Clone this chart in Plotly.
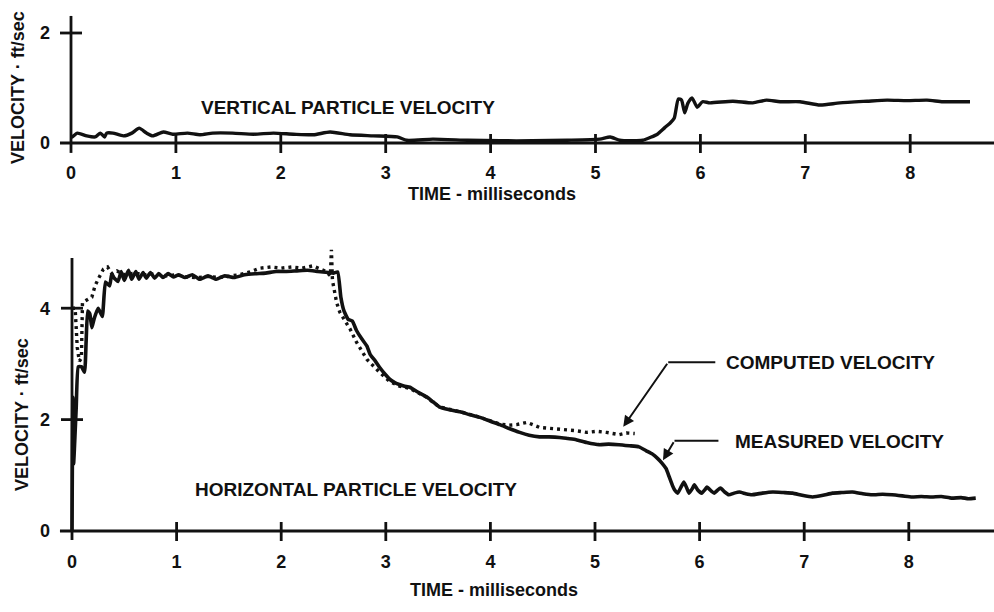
import plotly.graph_objects as go

# ---- Vertical particle velocity (ft/sec) vs time (ms) ----
vert_t = [0.00, 0.01, 0.06, 0.15, 0.23, 0.28, 0.32, 0.34, 0.40, 0.50, 0.58, 0.65,
          0.72, 0.78, 0.88, 0.97, 1.11, 1.23, 1.35, 1.54, 1.74, 1.93, 2.12, 2.31,
          2.47, 2.66, 2.88, 3.11, 3.20, 3.45, 3.78, 4.09, 4.40, 4.73, 5.04, 5.14,
          5.23, 5.36, 5.45, 5.52, 5.59, 5.66, 5.71, 5.75, 5.79, 5.82, 5.85, 5.88,
          5.92, 5.97, 6.02, 6.09, 6.31, 6.50, 6.63, 6.76, 6.95, 7.14, 7.33, 7.59,
          7.78, 7.97, 8.16, 8.31, 8.47, 8.57]
vert_v = [0.12, 0.11, 0.18, 0.13, 0.11, 0.18, 0.11, 0.18, 0.18, 0.13, 0.18, 0.27,
          0.18, 0.13, 0.20, 0.16, 0.18, 0.15, 0.18, 0.18, 0.16, 0.18, 0.16, 0.15,
          0.20, 0.15, 0.13, 0.11, 0.05, 0.07, 0.05, 0.04, 0.04, 0.05, 0.07, 0.11,
          0.05, 0.04, 0.05, 0.10, 0.16, 0.28, 0.36, 0.45, 0.80, 0.78, 0.55, 0.72,
          0.82, 0.65, 0.75, 0.73, 0.76, 0.73, 0.78, 0.75, 0.75, 0.69, 0.73, 0.76,
          0.78, 0.77, 0.78, 0.75, 0.75, 0.75]

# ---- Horizontal particle velocity: measured (solid) ----
meas_t = [0.000, 0.008, 0.015, 0.04, 0.06, 0.09, 0.12, 0.135, 0.15, 0.17, 0.19, 0.21,
          0.25, 0.29, 0.32, 0.36, 0.38, 0.40, 0.44, 0.47, 0.50, 0.54, 0.57, 0.61,
          0.64, 0.68, 0.71, 0.75, 0.79, 0.83, 0.87, 0.92, 0.97, 1.02, 1.08, 1.15,
          1.22, 1.30, 1.38, 1.46, 1.55, 1.65, 1.75, 1.85, 1.95, 2.05, 2.15, 2.25,
          2.35, 2.45, 2.50, 2.54, 2.57, 2.60, 2.64, 2.68, 2.72, 2.77, 2.82, 2.85,
          2.90, 2.94, 3.00, 3.04, 3.09, 3.13, 3.18, 3.23, 3.30, 3.39, 3.45, 3.51,
          3.60, 3.71, 3.80, 3.90, 4.00, 4.09, 4.18, 4.28, 4.37, 4.47, 4.56, 4.66,
          4.74, 4.82, 4.92, 5.04, 5.13, 5.23, 5.33, 5.42, 5.49, 5.55, 5.60, 5.64,
          5.68, 5.71, 5.74, 5.76, 5.79, 5.82, 5.85, 5.88, 5.90, 5.93, 5.95, 5.98,
          6.02, 6.05, 6.07, 6.11, 6.14, 6.17, 6.20, 6.24, 6.28, 6.33, 6.38, 6.44,
          6.50, 6.60, 6.70, 6.80, 6.89, 6.98, 7.08, 7.18, 7.27, 7.36, 7.46, 7.56,
          7.65, 7.75, 7.84, 7.94, 8.03, 8.12, 8.22, 8.31, 8.41, 8.50, 8.57, 8.64]
meas_v = [0.00, 2.40, 1.20, 2.20, 2.95, 2.95, 2.85, 3.40, 3.95, 3.90, 3.65, 3.80,
          4.00, 3.85, 4.47, 4.40, 4.62, 4.55, 4.48, 4.66, 4.50, 4.68, 4.52, 4.66,
          4.52, 4.64, 4.54, 4.64, 4.54, 4.62, 4.55, 4.62, 4.56, 4.60, 4.55, 4.60,
          4.52, 4.58, 4.52, 4.58, 4.55, 4.60, 4.62, 4.63, 4.66, 4.66, 4.67, 4.68,
          4.66, 4.64, 4.63, 4.65, 4.20, 3.95, 3.80, 3.77, 3.60, 3.45, 3.32, 3.17,
          3.05, 2.94, 2.80, 2.72, 2.66, 2.63, 2.60, 2.58, 2.50, 2.41, 2.32, 2.23,
          2.18, 2.14, 2.09, 2.04, 1.97, 1.91, 1.84, 1.77, 1.72, 1.69, 1.69, 1.68,
          1.66, 1.64, 1.59, 1.55, 1.56, 1.55, 1.53, 1.51, 1.44, 1.38, 1.30, 1.22,
          1.12, 0.97, 0.82, 0.74, 0.68, 0.78, 0.88, 0.76, 0.68, 0.76, 0.83, 0.74,
          0.68, 0.74, 0.79, 0.72, 0.68, 0.73, 0.77, 0.70, 0.65, 0.68, 0.70, 0.67,
          0.65, 0.68, 0.70, 0.69, 0.68, 0.64, 0.61, 0.64, 0.68, 0.69, 0.70, 0.67,
          0.65, 0.66, 0.65, 0.63, 0.61, 0.62, 0.61, 0.62, 0.59, 0.60, 0.58, 0.59]

# ---- Horizontal particle velocity: computed (dotted) ----
comp_t = [0.00, 0.03, 0.05, 0.07, 0.09, 0.10, 0.19, 0.22, 0.25, 0.30, 0.34, 0.38,
          0.43, 0.50, 0.60, 0.70, 0.80, 0.90, 1.00, 1.10, 1.20, 1.30, 1.40, 1.50,
          1.60, 1.70, 1.80, 1.90, 2.00, 2.10, 2.20, 2.30, 2.38, 2.43, 2.47, 2.48,
          2.49, 2.53, 2.56, 2.66, 2.72, 2.82, 2.94, 3.04, 3.13, 3.23, 3.39, 3.51,
          3.71, 3.90, 4.09, 4.18, 4.25, 4.35, 4.47, 4.60, 4.73, 4.82, 4.92, 5.02,
          5.11, 5.23, 5.30, 5.38]
comp_v = [4.00, 4.00, 3.30, 3.05, 3.10, 4.10, 4.20, 4.40, 4.52, 4.70, 4.74, 4.62,
          4.67, 4.60, 4.63, 4.60, 4.62, 4.58, 4.60, 4.56, 4.55, 4.57, 4.55, 4.58,
          4.60, 4.65, 4.72, 4.74, 4.72, 4.74, 4.72, 4.76, 4.70, 4.66, 4.58, 5.05,
          4.50, 4.10, 3.93, 3.62, 3.39, 3.08, 2.85, 2.68, 2.60, 2.56, 2.40, 2.23,
          2.14, 2.04, 1.92, 1.90, 1.91, 1.95, 1.86, 1.84, 1.82, 1.80, 1.77, 1.79,
          1.77, 1.73, 1.76, 1.75]

x_ticks = [0, 1, 2, 3, 4, 5, 6, 7, 8]
y_ticks_top = [0, 2]
y_ticks_bottom = [0, 2, 4]

INK = "#111111"
FONT = "Liberation Sans"
W, H = 994, 612


def fx(px):
    return px / W


def fy(py):
    return 1 - py / H


fig = go.Figure()

fig.add_trace(go.Scatter(x=vert_t, y=vert_v, mode="lines", xaxis="x", yaxis="y",
                         line=dict(color=INK, width=3.4, shape="spline", smoothing=0.6),
                         showlegend=False, hoverinfo="skip"))
fig.add_trace(go.Scatter(x=comp_t, y=comp_v, mode="lines", xaxis="x2", yaxis="y2",
                         line=dict(color=INK, width=3.4, dash="3px,4px"),
                         showlegend=False, hoverinfo="skip"))
fig.add_trace(go.Scatter(x=meas_t, y=meas_v, mode="lines", xaxis="x2", yaxis="y2",
                         line=dict(color=INK, width=3.6, shape="spline", smoothing=0.4),
                         showlegend=False, hoverinfo="skip"))

tickfont = dict(family=FONT, size=18, color=INK, weight="bold")
axis_common = dict(showgrid=False, zeroline=False, showline=False, ticks="",
                   tickfont=tickfont, fixedrange=True)

fig.update_layout(
    width=W, height=H,
    margin=dict(l=0, r=0, t=0, b=0),
    paper_bgcolor="white", plot_bgcolor="white",
    xaxis=dict(domain=[0, 1], range=[-71 / 104.9, (W - 71) / 104.9],
               anchor="free", position=fy(160), tickvals=x_ticks, **axis_common),
    yaxis=dict(domain=[fy(200), 1], range=[(143 - 200) / 55, 143 / 55],
               anchor="free", position=fx(50), tickvals=y_ticks_top, **axis_common),
    xaxis2=dict(domain=[0, 1], range=[-72 / 104.6, (W - 72) / 104.6],
                anchor="free", position=fy(549), tickvals=x_ticks, **axis_common),
    yaxis2=dict(domain=[0, fy(240)], range=[(531 - H) / 55.7, (531 - 240) / 55.7],
                anchor="free", position=fx(50), tickvals=y_ticks_bottom, **axis_common),
)

shapes = []
line_style = dict(color=INK, width=2.8)

# axis lines
shapes.append(dict(type="line", xref="x", yref="y", x0=-0.105, x1=8.8, y0=0, y1=0, line=line_style))
shapes.append(dict(type="line", xref="x", yref="y", x0=0, x1=0, y0=-0.18, y1=2.31, line=line_style))
shapes.append(dict(type="line", xref="x2", yref="y2", x0=-0.115, x1=8.82, y0=0, y1=0, line=line_style))
shapes.append(dict(type="line", xref="x2", yref="y2", x0=0, x1=0, y0=-0.16, y1=4.9, line=line_style))

# cross-style tick marks
for xr, yr in (("x", "y"), ("x2", "y2")):
    for t in x_ticks[1:]:
        shapes.append(dict(type="line", xref=xr, yref=yr, x0=t, x1=t,
                           ysizemode="pixel", yanchor=0, y0=-10, y1=9, line=line_style))
for v in y_ticks_top[1:]:
    shapes.append(dict(type="line", xref="x", yref="y", y0=v, y1=v,
                       xsizemode="pixel", xanchor=0, x0=-11, x1=11, line=line_style))
for v in y_ticks_bottom[1:]:
    shapes.append(dict(type="line", xref="x2", yref="y2", y0=v, y1=v,
                       xsizemode="pixel", xanchor=0, x0=-11, x1=11, line=line_style))

# leader lines for the curve labels
shapes.append(dict(type="line", xref="x2", yref="y2", x0=5.70, x1=6.15, y0=3.03, y1=3.03,
                   line=dict(color=INK, width=2)))
shapes.append(dict(type="line", xref="x2", yref="y2", x0=5.76, x1=6.18, y0=1.62, y1=1.62,
                   line=dict(color=INK, width=2)))
fig.update_layout(shapes=shapes)

label_font = dict(family=FONT, size=19, color=INK, weight="bold")
title_font = dict(family=FONT, size=18, color=INK, weight="bold")

annotations = [
    dict(text="VERTICAL PARTICLE VELOCITY", xref="x", yref="y", x=1.22, y=0.645,
         xanchor="left", yanchor="middle", showarrow=False, font=label_font),
    dict(text="HORIZONTAL PARTICLE VELOCITY", xref="x2", yref="y2", x=1.157, y=0.745,
         xanchor="left", yanchor="middle", showarrow=False, font=label_font),
    dict(text="COMPUTED VELOCITY", xref="x2", yref="y2", x=6.23, y=3.03,
         xanchor="left", yanchor="middle", showarrow=False, font=label_font),
    dict(text="MEASURED VELOCITY", xref="x2", yref="y2", x=6.32, y=1.60,
         xanchor="left", yanchor="middle", showarrow=False, font=label_font),
    # arrows from the leader bends to the curves
    dict(text="", xref="x2", yref="y2", x=5.27, y=1.87, axref="x2", ayref="y2",
         ax=5.70, ay=3.03, showarrow=True, arrowhead=2, arrowsize=1.1, arrowwidth=2,
         arrowcolor=INK),
    dict(text="", xref="x2", yref="y2", x=5.65, y=1.27, axref="x2", ayref="y2",
         ax=5.76, ay=1.62, showarrow=True, arrowhead=2, arrowsize=1.1, arrowwidth=2,
         arrowcolor=INK),
    # axis titles
    dict(text="VELOCITY · ft/sec", xref="paper", yref="paper", x=fx(18), y=fy(88),
         textangle=-90, showarrow=False, font=title_font, xanchor="center", yanchor="middle"),
    dict(text="VELOCITY · ft/sec", xref="paper", yref="paper", x=fx(22), y=fy(415),
         textangle=-90, showarrow=False, font=title_font, xanchor="center", yanchor="middle"),
    dict(text="TIME - milliseconds", xref="paper", yref="paper", x=fx(492), y=fy(194),
         showarrow=False, font=title_font, xanchor="center", yanchor="middle"),
    dict(text="TIME - milliseconds", xref="paper", yref="paper", x=fx(494), y=fy(590),
         showarrow=False, font=title_font, xanchor="center", yanchor="middle"),
]
fig.update_layout(annotations=annotations)

fig.write_html("out.html")
